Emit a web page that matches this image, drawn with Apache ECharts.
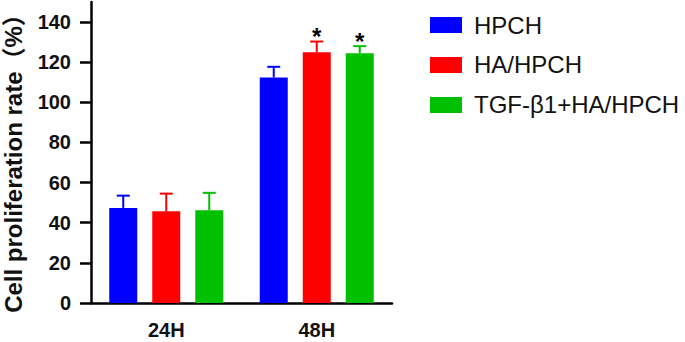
<!DOCTYPE html>
<html>
<head>
<meta charset="utf-8">
<script src="https://cdn.jsdelivr.net/npm/echarts@6/dist/echarts.min.js"></script>
<style>
  html, body { margin: 0; padding: 0; background: #fff; }
  #chart-container { width: 685px; height: 342px; }
</style>
</head>
<body>
<div id="chart-container"></div>
<script>
// datos
const categorias = ["24H", "48H"];
const grupos = ["HPCH", "HA/HPCH", "TGF-β1+HA/HPCH"];
const colores = ["#0000ff", "#ff0000", "#00c000"];
const medias = [
  [47.4, 112.4],
  [45.7, 125.0],
  [46.2, 124.4],
];
const desviaciones = [
  [6.1, 5.3],
  [8.8, 5.3],
  [8.7, 3.6],
];
const significativo = [
  [false, false],
  [false, true],
  [false, true],
];
const ticksY = [0, 20, 40, 60, 80, 100, 120, 140];

const fuente = "'Liberation Sans', Arial, 'Noto Sans CJK SC', sans-serif";
const anchoBarra = 28;
const huecoBarra = 15;

function renderError(indiceGrupo) {
  return function (params, api) {
    const cat = api.value(0);
    const alto = api.value(1);
    const base = api.coord([cat, medias[indiceGrupo][cat]]);
    const tope = api.coord([cat, alto]);
    const x = base[0] + (indiceGrupo - 1) * (anchoBarra + huecoBarra);
    const estilo = { stroke: colores[indiceGrupo], lineWidth: 2 };
    const hijos = [
      { type: "line", shape: { x1: x, y1: base[1], x2: x, y2: tope[1] }, style: estilo },
      { type: "line", shape: { x1: x - 6.5, y1: tope[1], x2: x + 6.5, y2: tope[1] }, style: estilo },
    ];
    if (significativo[indiceGrupo][cat]) {
      hijos.push({
        type: "text",
        x: x,
        y: tope[1] - 5,
        style: {
          text: "*",
          fill: "#000",
          font: "bold 24px " + fuente,
          textAlign: "center",
          textVerticalAlign: "middle",
        },
      });
    }
    return { type: "group", children: hijos };
  };
}

const seriesBarras = grupos.map((nombre, i) => ({
  name: nombre,
  type: "bar",
  barWidth: anchoBarra,
  barGap: (huecoBarra / anchoBarra) * 100 + "%",
  data: medias[i],
  itemStyle: { color: colores[i] },
  z: 2,
}));

const seriesError = grupos.map((nombre, i) => ({
  name: nombre,
  type: "custom",
  renderItem: renderError(i),
  data: medias[i].map((m, j) => [j, m + desviaciones[i][j]]),
  encode: { x: 0, y: 1 },
  z: 3,
  silent: true,
}));

var option = {
  animation: false,
  textStyle: { fontFamily: fuente },
  grid: { left: 91, right: 293, top: 2, bottom: 39, outerBoundsMode: "none", containLabel: false },
  legend: {
    data: grupos,
    orient: "vertical",
    left: 425,
    top: 8,
    icon: "rect",
    itemWidth: 32,
    itemHeight: 16,
    itemGap: 16,
    textStyle: {
      fontFamily: fuente,
      fontSize: 24,
      color: "#111",
      padding: [0, 0, 0, 7],
    },
  },
  xAxis: {
    type: "category",
    data: categorias,
    axisLine: { lineStyle: { color: "#000", width: 2.5 } },
    axisTick: { alignWithLabel: true, length: 11, lineStyle: { color: "#000", width: 2.5 } },
    axisLabel: {
      color: "#111",
      fontSize: 20,
      fontWeight: "bold",
      fontFamily: fuente,
      margin: 17,
    },
  },
  yAxis: {
    type: "value",
    min: 0,
    max: 150,
    interval: 10,
    name: "Cell proliferation rate（%）",
    nameLocation: "middle",
    nameGap: 66,
    nameTextStyle: {
      fontSize: 24,
      fontWeight: "bold",
      color: "#111",
      fontFamily: fuente,
      padding: [0, 10, 0, 0],
    },
    splitLine: { show: false },
    axisLine: { show: true, lineStyle: { color: "#000", width: 2.5 } },
    axisTick: { show: true, length: 11, customValues: ticksY, lineStyle: { color: "#000", width: 2.5 } },
    axisLabel: {
      customValues: ticksY,
      color: "#111",
      fontSize: 20,
      fontWeight: "bold",
      fontFamily: fuente,
      margin: 20,
    },
  },
  series: seriesBarras.concat(seriesError),
};

var dom = document.getElementById("chart-container");
var myChart = echarts.init(dom, null, { renderer: "svg" });
myChart.setOption(option);
</script>
</body>
</html>
